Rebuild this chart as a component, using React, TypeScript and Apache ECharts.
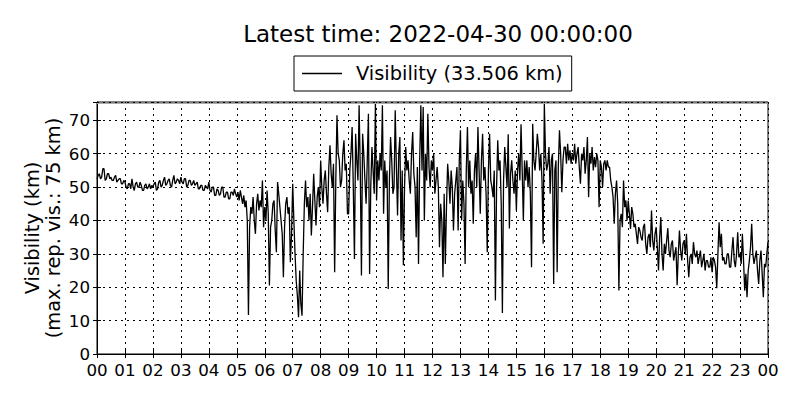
import React, { useEffect, useRef } from "react";
import * as echarts from "echarts";

// Visibility (km), evenly spaced samples within each hour (00h..23h)
const H00 = [52.5, 53.5, 54, 52.5, 53, 55.5, 55.5, 52, 52.5, 54, 54, 52.5, 53, 52, 52, 53, 53.5, 51.5, 52, 52.5, 52.5, 51, 51, 52];
const H01 = [51.5, 50, 49.5, 51, 51, 49.5, 52.5, 50, 49, 51, 51.5, 50, 50, 51.5, 50.5, 49, 49, 50.5, 51, 49.5, 50, 51, 49.5, 50.5];
const H02 = [50, 51, 51.5, 49, 49.5, 51.5, 52, 50, 50.5, 52, 53, 50.5, 51, 52, 52.5, 50.5, 50, 52, 53.5, 51, 51.5, 52.5, 52, 51];
const H03 = [53, 51.5, 51, 52.5, 52.5, 50, 50.5, 52, 52, 50.5, 51, 52, 50.5, 51, 51.5, 49.5, 49.5, 50.5, 50.5, 49, 49, 50.5, 50, 49.5];
const H04 = [51.5, 49, 48.5, 50, 50, 47.5, 47.5, 49.5, 49, 47.5, 48, 50, 50, 47, 47, 48.5, 48.5, 46.5, 46.5, 48.5, 48.5, 47.5, 49.5, 48];
const H05 = [47, 48.5, 46, 49, 47, 45, 47.5, 44, 46, 40, 11.7, 38, 44, 42, 47, 40, 36, 45, 48, 43, 46, 44, 52, 38];
const H06 = [44, 40, 49, 42, 20.5, 38, 40, 45, 46, 37, 30.5, 51.5, 48, 44, 40, 36, 23, 38, 45, 47, 42, 44, 27.5, 36];
const H07 = [51, 40, 30, 22, 17.5, 11, 25, 15, 11.5, 30, 45, 52, 44, 47, 40, 48, 35.5, 44, 54, 46, 38.5, 47, 50, 44];
const H08 = [58, 50, 45, 52, 55, 48, 42.5, 56, 62.5, 54, 50, 57, 24.5, 52, 71.5, 60, 58, 50, 52, 60, 64, 55, 57, 42];
const H09 = [42, 55, 60, 68, 50, 28.5, 66, 58, 52, 74.5, 55, 23.5, 66, 60, 52, 45, 58, 72, 24, 50, 62, 55, 48, 75];
const H10 = [46, 58, 52, 60, 55, 74.5, 42, 58, 50, 55, 19.5, 52, 65, 58, 48, 50, 73, 56, 41.5, 60, 65, 34, 55, 26.6];
const H11 = [50, 62, 55, 58, 52, 48, 60, 66.5, 54, 50, 35, 56, 27, 58, 74.5, 55, 74, 40, 60, 52, 72, 56, 50, 58];
const H12 = [55, 60, 48, 52, 56, 50, 32, 45, 40, 23, 48, 27, 44, 57, 52, 45, 55, 50, 37, 48, 52, 56, 37, 58];
const H13 = [67, 40, 52, 45, 27, 55, 68, 50, 58, 48, 52, 39, 55, 60, 50, 68, 55, 42, 58, 66, 52, 56, 48, 30.5];
const H14 = [55, 66, 52, 50, 47, 55, 16, 50, 64, 55, 58, 45, 12.3, 52, 62, 56, 50, 65.8, 37.6, 54, 58, 52, 48, 55];
const H15 = [43, 55, 60, 52, 68.8, 55, 40, 58, 52, 58, 50, 56, 48, 26, 69, 58, 55, 60, 66, 62, 55, 60, 52, 33];
const H16 = [75, 60, 55, 57, 62, 48, 58, 60, 21, 55, 58, 24.5, 56, 67, 60, 48.5, 58, 62, 62, 57, 63, 58, 61, 57];
const H17 = [60, 58, 63, 57, 60, 62, 56, 51, 60, 58, 62, 54, 58, 65, 47, 60, 57, 62, 55, 59, 56, 60, 58, 44];
const H18 = [58, 56, 50, 57, 58, 55, 58, 56, 56, 52, 50, 47, 39, 48, 52, 45, 19, 40, 42, 38, 52, 44, 46, 40];
const H19 = [46, 42, 37.5, 44, 42, 38, 39, 36, 33, 38, 37, 35, 34, 38, 39, 33, 30, 35, 36, 32, 43, 34, 31, 36];
const H20 = [38, 32, 25, 35, 41, 30, 25, 33, 30, 34, 37.7, 31, 29, 33, 34, 28, 30, 32, 20.6, 30, 37, 31, 28, 33];
const H21 = [34, 30, 36, 28, 23, 29, 30, 27, 33.5, 30, 29, 31, 27, 29, 31, 26, 28, 30, 25, 28, 28, 26, 26, 29];
const H22 = [24.5, 29, 28, 26, 19.7, 30, 39.5, 32, 36, 28, 29, 27, 27, 30, 30, 26, 26, 31, 35, 28, 26, 30, 36.5, 29];
const H23 = [30, 27, 36, 28, 19, 24, 17, 25, 28, 32, 39, 30, 27, 29, 31, 25, 21, 28, 31, 24, 17, 27, 26, 30];
const LATEST_VALUE = 33.506;
const MAX_REP_VIS = 75;
const TITLE = "Latest time: 2022-04-30 00:00:00";
const Y_LABEL_1 = "Visibility (km)";
const Y_LABEL_2 = "(max. rep. vis.: 75 km)";

const HOURS = [H00, H01, H02, H03, H04, H05, H06, H07, H08, H09, H10, H11,
  H12, H13, H14, H15, H16, H17, H18, H19, H20, H21, H22, H23];

const FONT = "DejaVu Sans";

export default function App() {
  const ref = useRef<HTMLDivElement>(null);
  useEffect(() => {
    document.body.style.margin = "0";
    if (!ref.current) return;
    const chart = echarts.init(ref.current, undefined, { renderer: "svg" });
    const data: number[][] = [];
    HOURS.forEach((arr, h) => {
      arr.forEach((v, i) => data.push([h + i / arr.length, v]));
    });
    data.push([24, LATEST_VALUE]);
    const seriesName = `Visibility (${LATEST_VALUE.toFixed(3)} km)`;
    const dash = [2, 4];
    chart.setOption({
      animation: false,
      backgroundColor: "#fff",
      title: {
        text: TITLE,
        left: 433,
        top: 17,
        textAlign: "center",
        textStyle: { fontFamily: FONT, fontSize: 23, fontWeight: "normal", color: "#000" },
      },
      legend: {
        left: 294,
        top: 56,
        padding: [6, 9, 6, 8],
        borderColor: "#000",
        borderWidth: 1,
        borderRadius: 0,
        icon: "rect",
        itemWidth: 40,
        itemHeight: 1.3,
        itemStyle: { color: "#000", borderWidth: 0 },
        data: [seriesName],
        textStyle: { fontFamily: FONT, fontSize: 19.4, lineHeight: 23, color: "#000", padding: [0, 0, 0, 9] },
      },
      grid: {
        left: 97,
        top: 102,
        width: 671,
        height: 252,
        show: true,
        borderColor: "#000",
        borderWidth: 1,
        backgroundColor: "transparent",
      },
      graphic: [
        {
          type: "text",
          x: 32,
          y: 228,
          rotation: Math.PI / 2,
          style: { text: Y_LABEL_1, font: `19.4px "${FONT}"`, fill: "#000", align: "center", verticalAlign: "middle", textAlign: "center", textVerticalAlign: "middle" },
        },
        {
          type: "text",
          x: 53,
          y: 228,
          rotation: Math.PI / 2,
          style: { text: Y_LABEL_2, font: `19.4px "${FONT}"`, fill: "#000", align: "center", verticalAlign: "middle", textAlign: "center", textVerticalAlign: "middle" },
        },
      ],
      xAxis: [
        {
          type: "value",
          min: 0,
          max: 24,
          interval: 1,
          axisLine: { show: true, lineStyle: { color: "#000", width: 1 } },
          axisTick: { show: true, inside: true, length: 4, lineStyle: { color: "#000" } },
          axisLabel: {
            color: "#000",
            fontFamily: FONT,
            fontSize: 16.7,
            margin: 7,
            formatter: (v: number) => String(Math.round(v) % 24).padStart(2, "0"),
          },
          splitLine: { show: true, lineStyle: { color: "#000", width: 1, type: dash } },
        },
        {
          type: "value",
          position: "top",
          min: 0,
          max: 24,
          interval: 1,
          axisLine: { show: false },
          axisTick: { show: true, inside: true, length: 4, lineStyle: { color: "#000" } },
          axisLabel: { show: false },
          splitLine: { show: false },
        },
      ],
      yAxis: [
        {
          type: "value",
          min: 0,
          max: 75.5,
          interval: 10,
          axisLine: { show: true, lineStyle: { color: "#000", width: 1 } },
          axisTick: { show: true, inside: true, length: 4, lineStyle: { color: "#000" } },
          axisLabel: {
            color: "#000",
            fontFamily: FONT,
            fontSize: 16.7,
            margin: 7,
            showMaxLabel: false,
            formatter: (v: number) => (v % 10 === 0 ? String(v) : ""),
          },
          splitLine: { show: true, lineStyle: { color: "#000", width: 1, type: dash } },
        },
        {
          type: "value",
          position: "right",
          min: 0,
          max: 75.5,
          interval: 10,
          axisLine: { show: false },
          axisTick: { show: true, inside: true, length: 4, lineStyle: { color: "#000" } },
          axisLabel: { show: false },
          splitLine: { show: false },
        },
      ],
      series: [
        {
          name: seriesName,
          type: "line",
          data,
          showSymbol: false,
          symbol: "none",
          lineStyle: { color: "#000", width: 1.3 },
          itemStyle: { color: "#000" },
          markLine: {
            silent: true,
            symbol: "none",
            label: { show: false },
            lineStyle: { color: "#aaaaaa", width: 1, type: "solid" },
            data: [{ yAxis: MAX_REP_VIS }],
          },
        },
      ],
    });
    return () => chart.dispose();
  }, []);
  return <div ref={ref} style={{ width: 800, height: 400 }} />;
}
